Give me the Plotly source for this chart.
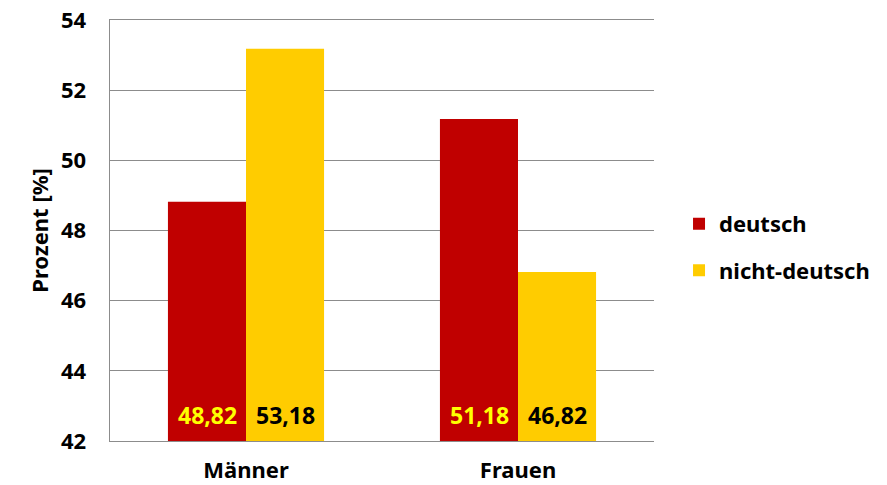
import plotly.graph_objects as go

categories = ["Männer", "Frauen"]
deutsch = [48.82, 51.18]
nicht_deutsch = [53.18, 46.82]
series_names = ["deutsch", "nicht-deutsch"]
y_ticks = [42, 44, 46, 48, 50, 52, 54]
BASE = 42

FONT = "Noto Sans"

def fmt(v):
    return f"{v:.2f}".replace(".", ",")

fig = go.Figure()
fig.add_trace(go.Bar(
    x=categories, y=[v - BASE for v in deutsch], base=BASE,
    name=series_names[0], marker_color="#C00000", marker_line_width=0,
    legendgroup="a", hoverinfo="skip",
))
fig.add_trace(go.Bar(
    x=categories, y=[v - BASE for v in nicht_deutsch], base=BASE,
    name=series_names[1], marker_color="#FFCC00", marker_line_width=0,
    legendgroup="b", hoverinfo="skip",
))

for vals, shift, col in [(deutsch, -39, "#FFFF00"), (nicht_deutsch, 39, "#000000")]:
    for cat, v in zip(categories, vals):
        fig.add_annotation(
            x=cat, y=BASE, xref="x", yref="y", text=fmt(v), showarrow=False,
            xshift=shift, yshift=26, yanchor="middle", xanchor="center",
            font=dict(color=col, size=23, family=FONT, weight="bold"),
        )

fig.update_layout(
    width=887, height=485,
    margin=dict(l=110, r=233, t=20, b=44, autoexpand=False),
    plot_bgcolor="white", paper_bgcolor="white",
    barmode="group", bargap=0.426, bargroupgap=0,
    font=dict(family=FONT, size=20, color="#000000", weight="bold"),
    legend=dict(x=1.046, y=0.46, xanchor="left", yanchor="middle",
                font=dict(size=22, family=FONT, weight="bold"),
                tracegroupgap=15, traceorder="grouped", itemwidth=30),
    showlegend=True,
)
fig.update_yaxes(
    range=[42, 54], tickvals=y_ticks, ticktext=[str(t) for t in y_ticks],
    showgrid=True, gridcolor="#8C8C8C", gridwidth=1,
    showline=True, linecolor="#8C8C8C", linewidth=1.5,
    ticks="", ticklabelstandoff=18, automargin=False,
    ticklabeloverflow="allow",
    tickfont=dict(size=22, family=FONT, weight="bold"),
    title=dict(text="Prozent [%]", font=dict(size=22, family=FONT, weight="bold"), standoff=6),
    zeroline=False,
)
fig.update_xaxes(
    showline=True, mirror=True, linecolor="#8C8C8C", linewidth=1,
    ticks="", showgrid=False, automargin=False,
    ticklabelstandoff=10,
    tickfont=dict(size=22, family=FONT, weight="bold"),
)

fig.write_html(
    "out.html",
    config={"displayModeBar": False, "staticPlot": True},
    post_script="document.body.style.margin='0';document.body.style.overflow='hidden';",
)
